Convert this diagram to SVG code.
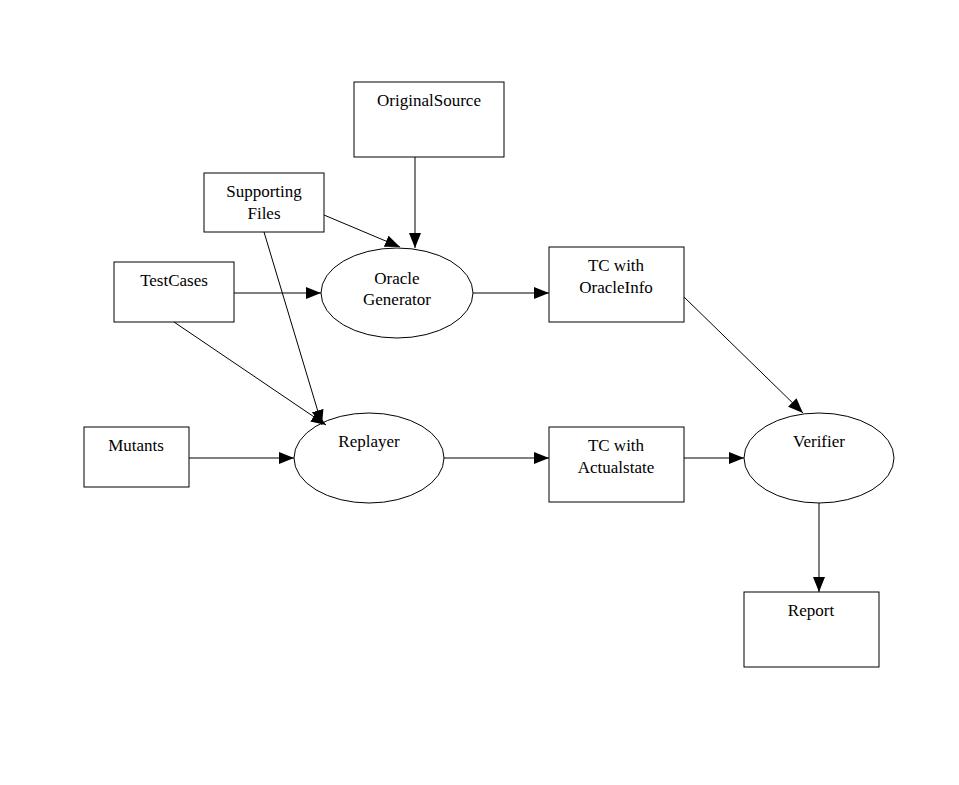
<svg xmlns="http://www.w3.org/2000/svg" width="959" height="785" viewBox="0 0 959 785">
<style>
.n{fill:#fff;stroke:#000;stroke-width:1}
.t{font-family:"Liberation Serif",serif;font-size:17px;text-anchor:middle;fill:#000}
.c line{stroke:#000;stroke-width:1;marker-end:url(#a)}
</style>
<defs><marker id="a" markerUnits="userSpaceOnUse" markerWidth="16" markerHeight="14" refX="15" refY="6" orient="auto"><path d="M0,0L15,6L0,12z"/></marker></defs>
<rect width="959" height="785" fill="#fff"/>
<g id="orig"><rect class="n" x="354" y="82" width="150" height="75"/><text class="t" x="429" y="106">OriginalSource</text></g>
<g id="supp"><rect class="n" x="204" y="173" width="120" height="59"/><text class="t" x="264" y="197">Supporting</text><text class="t" x="264" y="219">Files</text></g>
<g id="tc"><rect class="n" x="114" y="262" width="120" height="60"/><text class="t" x="174" y="286">TestCases</text></g>
<g id="og"><ellipse class="n" cx="397" cy="293" rx="76" ry="45"/><text class="t" x="397" y="284">Oracle</text><text class="t" x="397" y="305">Generator</text></g>
<g id="tco"><rect class="n" x="549" y="247" width="135" height="75"/><text class="t" x="616" y="271">TC with</text><text class="t" x="616" y="293">OracleInfo</text></g>
<g id="mut"><rect class="n" x="84" y="427" width="105" height="60"/><text class="t" x="136" y="451">Mutants</text></g>
<g id="rep"><ellipse class="n" cx="369" cy="458" rx="75" ry="45"/><text class="t" x="369" y="447">Replayer</text></g>
<g id="tca"><rect class="n" x="549" y="427" width="135" height="75"/><text class="t" x="616" y="451">TC with</text><text class="t" x="616" y="473">Actualstate</text></g>
<g id="ver"><ellipse class="n" cx="819" cy="458" rx="75" ry="45"/><text class="t" x="819" y="447">Verifier</text></g>
<g id="rpt"><rect class="n" x="744" y="592" width="135" height="75"/><text class="t" x="811" y="616">Report</text></g>
<g class="c">
<line x1="415" y1="157" x2="415" y2="248"/>
<line x1="324" y1="215" x2="400" y2="247"/>
<line x1="234" y1="293" x2="321" y2="293"/>
<line x1="473" y1="293" x2="549" y2="293"/>
<line x1="684" y1="297" x2="803" y2="413"/>
<line x1="264" y1="232" x2="322" y2="425"/>
<line x1="174" y1="322" x2="326" y2="425"/>
<line x1="189" y1="458" x2="294" y2="458"/>
<line x1="444" y1="458" x2="549" y2="458"/>
<line x1="684" y1="458" x2="744" y2="458"/>
<line x1="819" y1="503" x2="819" y2="592"/>
</g>
</svg>
